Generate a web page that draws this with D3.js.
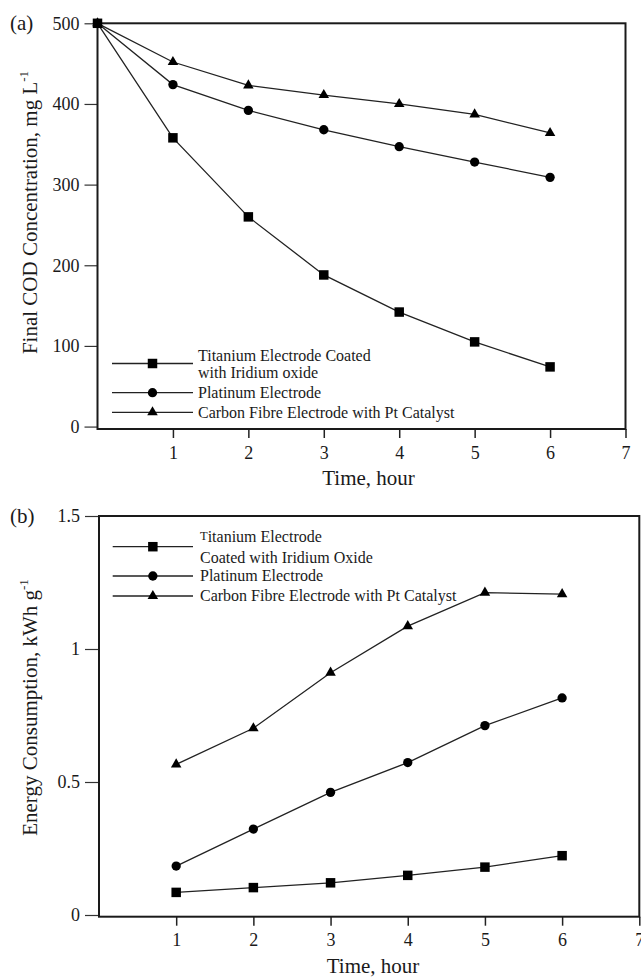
<!DOCTYPE html>
<html>
<head>
<meta charset="utf-8">
<script src="https://cdn.jsdelivr.net/npm/d3@7"></script>
<style>
  html, body { margin: 0; padding: 0; background: #fff; }
  svg { display: block; }
  text { font-family: "Liberation Serif", "DejaVu Serif", serif; fill: #1a1a1a; }
</style>
</head>
<body>
<svg id="chart" width="641" height="977"></svg>
<script>
// ---- Data ----
const codHours = [0, 1, 2, 3, 4, 5, 6];
const codTitanium = [500, 358, 260, 188, 142, 105, 74];
const codPlatinum = [500, 424, 392, 368, 347, 328, 309];
const codCarbon = [500, 452, 423, 411, 400, 387, 364];

const energyHours = [1, 2, 3, 4, 5, 6];
const energyTitanium = [0.085, 0.103, 0.121, 0.149, 0.180, 0.223];
const energyPlatinum = [0.184, 0.323, 0.461, 0.573, 0.712, 0.816];
const energyCarbon = [0.566, 0.702, 0.911, 1.086, 1.212, 1.206];

const xTicks = [1, 2, 3, 4, 5, 6, 7];
const codTicks = [0, 100, 200, 300, 400, 500];
const energyTicks = [0, 0.5, 1, 1.5];
const energyTickLabels = ["0", "0.5", "1", "1.5"];

const legendA = [
  { lines: ["Titanium Electrode Coated", "with Iridium oxide"], symbol: "square" },
  { lines: ["Platinum Electrode"], symbol: "circle" },
  { lines: ["Carbon Fibre Electrode with Pt Catalyst"], symbol: "triangle" }
];
const legendB = [
  { lines: ["Titanium Electrode", "Coated with Iridium Oxide"], symbol: "square" },
  { lines: ["Platinum Electrode"], symbol: "circle" },
  { lines: ["Carbon Fibre Electrode with Pt Catalyst"], symbol: "triangle" }
];

// ---- Drawing ----
const svg = d3.select("#chart");
svg.append("rect").attr("width", 641).attr("height", 977).attr("fill", "#fff");

const ink = "#1a1a1a";
const symbols = {
  square: d3.symbol().type(d3.symbolSquare).size(90),
  circle: d3.symbol().type(d3.symbolCircle).size(68),
  triangle: d3.symbol().type(d3.symbolTriangle).size(48)
};

function drawPanel(cfg) {
  const g = svg.append("g");
  const x = d3.scaleLinear().domain([0, 7]).range(cfg.xRange);
  const y = d3.scaleLinear().domain(cfg.yDomain).range(cfg.yRange);

  // y axis
  const yAxis = d3.axisLeft(y).tickValues(cfg.yTicks).tickSize(cfg.yTickSize).tickPadding(cfg.yTickPad)
    .tickFormat((d, i) => cfg.yTickLabels ? cfg.yTickLabels[i] : d3.format("d")(d));
  const ya = g.append("g").attr("transform", `translate(${x(0)},0)`).call(yAxis);
  ya.select(".domain").remove();
  ya.selectAll(".tick line").attr("stroke", "#333").attr("stroke-width", 1.2);
  ya.selectAll(".tick text").attr("font-size", 18).attr("fill", ink)
    .attr("font-family", '"Liberation Serif", serif');

  // x axis
  const xAxis = d3.axisBottom(x).tickValues(xTicks).tickSize(9).tickPadding(8).tickFormat(d3.format("d"));
  const xa = g.append("g").attr("transform", `translate(0,${cfg.yRange[0]})`).call(xAxis);
  xa.select(".domain").remove();
  xa.selectAll(".tick line").attr("stroke", "#222").attr("stroke-width", 1.5);
  xa.selectAll(".tick text").attr("font-size", 18).attr("fill", ink)
    .attr("font-family", '"Liberation Serif", serif');

  // frame
  g.append("rect")
    .attr("x", x(0)).attr("y", cfg.yRange[1])
    .attr("width", x(7) - x(0)).attr("height", cfg.yRange[0] - cfg.yRange[1])
    .attr("fill", "none").attr("stroke", "#1a1a1a").attr("stroke-width", 2);

  // series (draw triangle, circle then square so square is on top)
  const line = d3.line().x(d => x(d[0])).y(d => y(d[1]));
  cfg.series.forEach(s => {
    const pts = cfg.hours.map((h, i) => [h, s.values[i]]);
    g.append("path").datum(pts).attr("d", line)
      .attr("fill", "none").attr("stroke", "#222").attr("stroke-width", 1.3);
  });
  cfg.series.forEach(s => {
    const pts = cfg.hours.map((h, i) => [h, s.values[i]]);
    g.selectAll(null).data(pts).enter().append("path")
      .attr("d", symbols[s.symbol])
      .attr("transform", d => `translate(${x(d[0])},${y(d[1])})`)
      .attr("fill", "#000");
  });

  // panel letter
  g.append("text").attr("x", 10).attr("y", cfg.yRange[1] + 7).attr("font-size", 21).text(cfg.letter);

  // y title
  const yt = g.append("text")
    .attr("transform", `translate(36.5,${cfg.yTitleCenter}) rotate(-90)`)
    .attr("text-anchor", "middle").attr("font-size", 21);
  yt.append("tspan").text(cfg.yTitle);
  yt.append("tspan").attr("font-size", 13).attr("dy", -9).text("-1");

  // x title
  g.append("text").attr("x", cfg.xTitleX).attr("y", cfg.xTitleY)
    .attr("text-anchor", "middle").attr("font-size", 21).text("Time, hour");

  // legend
  const lg = g.append("g");
  cfg.legend.forEach((item, i) => {
    const cy = cfg.legendSymbolY[i];
    lg.append("line").attr("x1", cfg.legendX1).attr("x2", cfg.legendX2)
      .attr("y1", cy).attr("y2", cy).attr("stroke", "#222").attr("stroke-width", 1.3);
    lg.append("path").attr("d", symbols[item.symbol])
      .attr("transform", `translate(${(cfg.legendX1 + cfg.legendX2) / 2},${cy})`).attr("fill", "#000");
    item.lines.forEach((t, j) => {
      const ty = cfg.legendTextY[i][j] + 5.3;
      const txt = lg.append("text").attr("x", cfg.legendTextX).attr("y", ty).attr("font-size", 16);
      if (cfg.smallT && i === 0 && j === 0) {
        txt.append("tspan").attr("font-size", 12.5).attr("dy", -2).text(t[0]);
        txt.append("tspan").attr("dy", 2).text(t.slice(1));
      } else {
        txt.text(t);
      }
    });
  });
}

drawPanel({
  letter: "(a)",
  xRange: [97.5, 625.5],
  yDomain: [-3, 500],
  yRange: [429, 23.3],
  yTicks: codTicks,
  yTickSize: 13,
  yTickPad: 5,
  hours: codHours,
  series: [
    { values: codCarbon, symbol: "triangle" },
    { values: codPlatinum, symbol: "circle" },
    { values: codTitanium, symbol: "square" }
  ],
  yTitle: "Final COD Concentration, mg L",
  yTitleCenter: 212.5,
  xTitleX: 368.5,
  xTitleY: 485,
  legend: legendA,
  legendX1: 112, legendX2: 193,
  legendSymbolY: [363.5, 392.7, 412.3],
  legendTextY: [[355.5, 373], [392.7], [412.3]],
  legendTextX: 198,
  smallT: false
});

drawPanel({
  letter: "(b)",
  xRange: [99, 639.3],
  yDomain: [-0.0064, 1.5],
  yRange: [916.7, 516],
  yTicks: energyTicks,
  yTickLabels: energyTickLabels,
  yTickSize: 14,
  yTickPad: 5,
  hours: energyHours,
  series: [
    { values: energyCarbon, symbol: "triangle" },
    { values: energyPlatinum, symbol: "circle" },
    { values: energyTitanium, symbol: "square" }
  ],
  yTitle: "Energy Consumption, kWh g",
  yTitleCenter: 707.5,
  xTitleX: 373,
  xTitleY: 972.5,
  legend: legendB,
  legendX1: 112.7, legendX2: 193,
  legendSymbolY: [546.7, 576, 596],
  legendTextY: [[536.7, 557.3], [576], [596]],
  legendTextX: 200,
  smallT: true
});
</script>
</body>
</html>
